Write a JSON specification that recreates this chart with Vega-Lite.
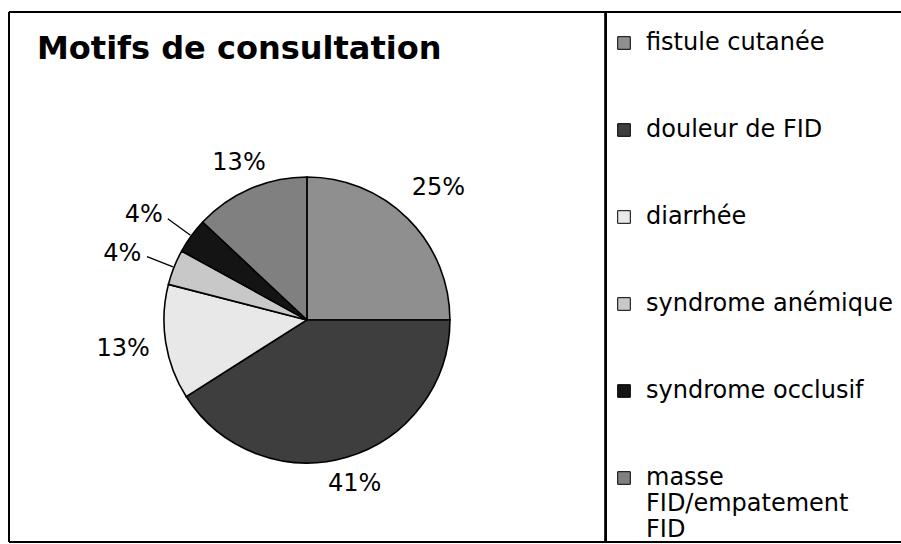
{
  "$schema": "https://vega.github.io/schema/vega-lite/v6.json",
  "autosize": "none",
  "width": 892,
  "height": 530,
  "padding": {"left": 9, "top": 12, "right": 0, "bottom": 2},
  "background": "white",
  "config": {
    "view": {"stroke": null},
    "font": "DejaVu Sans",
    "legend": {
      "orient": "none",
      "legendX": 603,
      "legendY": 19,
      "padding": 0,
      "symbolType": "square",
      "symbolSize": 160,
      "symbolStrokeColor": "black",
      "symbolStrokeWidth": 1,
      "labelFont": "DejaVu Sans",
      "labelFontSize": 24,
      "labelColor": "black",
      "labelOffset": 10,
      "labelLimit": 400,
      "rowPadding": 63
    }
  },
  "title": {
    "text": "Motifs de consultation",
    "anchor": "start",
    "frame": "group",
    "font": "DejaVu Sans",
    "fontSize": 32,
    "fontWeight": "bold",
    "color": "black",
    "offset": 0,
    "dx": 28,
    "dy": 55
  },
  "data": {
    "values": [
      {"motif": "fistule cutanée", "part": 0.25, "ordre": 1},
      {"motif": "douleur de FID", "part": 0.41, "ordre": 2},
      {"motif": "diarrhée", "part": 0.13, "ordre": 3},
      {"motif": "syndrome anémique", "part": 0.04, "ordre": 4},
      {"motif": "syndrome occlusif", "part": 0.04, "ordre": 5},
      {"motif": "masse FID/empatement FID", "part": 0.13, "ordre": 6}
    ]
  },
  "encoding": {
    "theta": {"field": "part", "type": "quantitative", "stack": true},
    "order": {"field": "ordre", "type": "quantitative"},
    "x": {"datum": 0.334, "type": "quantitative", "scale": {"domain": [0, 1]}, "axis": null},
    "y": {"datum": 0.419, "type": "quantitative", "scale": {"domain": [0, 1]}, "axis": null}
  },
  "layer": [
    {
      "mark": {"type": "arc", "outerRadius": 143, "stroke": "black", "strokeWidth": 1.6},
      "encoding": {
        "color": {
          "field": "motif",
          "type": "nominal",
          "scale": {
            "domain": ["fistule cutanée", "douleur de FID", "diarrhée", "syndrome anémique", "syndrome occlusif", "masse FID/empatement FID"],
            "range": ["#8f8f8f", "#3e3e3e", "#e8e8e8", "#c8c8c8", "#141414", "#808080"]
          },
          "legend": {
            "title": null,
            "labelExpr": "datum.label == 'masse FID/empatement FID' ? ['masse', 'FID/empatement', 'FID'] : datum.label"
          }
        }
      }
    },
    {
      "mark": {"type": "arc", "innerRadius": 144, "outerRadius": 172, "padAngle": 0.6, "fillOpacity": 0, "stroke": "black", "strokeWidth": 1.3},
      "encoding": {
        "strokeOpacity": {"condition": {"test": "datum.part < 0.05", "value": 1}, "value": 0}
      }
    },
    {
      "mark": {"type": "text", "radius": 186, "fontSize": 24, "font": "DejaVu Sans", "color": "black"},
      "encoding": {
        "text": {"field": "part", "type": "quantitative", "format": ".0%"},
        "opacity": {"condition": {"test": "datum.ordre == 1 || datum.ordre == 3", "value": 1}, "value": 0}
      }
    },
    {
      "mark": {"type": "text", "radius": 171, "fontSize": 24, "font": "DejaVu Sans", "color": "black"},
      "encoding": {
        "text": {"field": "part", "type": "quantitative", "format": ".0%"},
        "opacity": {"condition": {"test": "datum.ordre == 2 || datum.ordre == 6", "value": 1}, "value": 0}
      }
    },
    {
      "mark": {"type": "text", "radius": 178, "fontSize": 24, "font": "DejaVu Sans", "color": "black", "align": "right"},
      "encoding": {
        "text": {"field": "part", "type": "quantitative", "format": ".0%"},
        "opacity": {"condition": {"test": "datum.part < 0.05", "value": 1}, "value": 0}
      }
    },
    {
      "mark": {"type": "rule", "color": "black", "strokeWidth": 2},
      "encoding": {"x": {"datum": 0.669, "type": "quantitative"}, "y": null, "theta": null, "order": null}
    },
    {
      "mark": {"type": "rule", "color": "black", "strokeWidth": 2},
      "encoding": {"x": {"datum": 0, "type": "quantitative"}, "y": null, "theta": null, "order": null}
    },
    {
      "mark": {"type": "rule", "color": "black", "strokeWidth": 2},
      "encoding": {"y": {"datum": 0, "type": "quantitative"}, "x": null, "theta": null, "order": null}
    },
    {
      "mark": {"type": "rule", "color": "black", "strokeWidth": 2},
      "encoding": {"y": {"datum": 1, "type": "quantitative"}, "x": null, "theta": null, "order": null}
    }
  ]
}
